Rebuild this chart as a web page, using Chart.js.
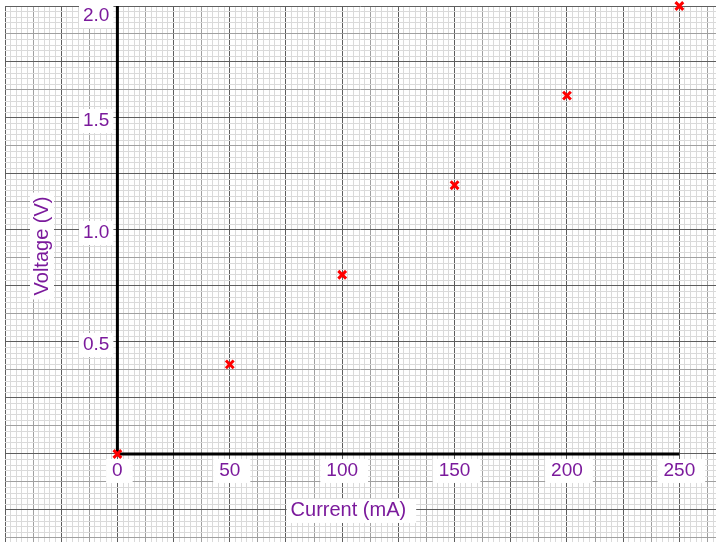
<!DOCTYPE html>
<html>
<head>
<meta charset="utf-8">
<script src="https://cdn.jsdelivr.net/npm/chart.js@4/dist/chart.umd.min.js"></script>
<style>
  html, body { margin: 0; padding: 0; background: #fff; }
  #wrap { width: 716px; height: 542px; }
</style>
</head>
<body>
<div id="wrap"><canvas id="graph"></canvas></div>
<script>
// readings off the graph paper
const currents = [0, 50, 100, 150, 200, 250];       // mA
const voltages = [0, 0.4, 0.8, 1.2, 1.6, 2.0];      // V
const xTickLabels = [0, 50, 100, 150, 200, 250];
const yTickLabels = [0.5, 1.0, 1.5, 2.0];
const xTitle = 'Current (mA)';
const yTitle = 'Voltage (V)';

const purple = '#7b1a9c';
const tickFont = '19px "Liberation Sans", Arial, sans-serif';
const titleFont = '20px "Liberation Sans", Arial, sans-serif';

// grid colour depends on whether the line is a major / half / minor division
function gridColour(value, major) {
  const n = Math.round(value / (major / 10));
  if (n % 10 === 0) return '#5e5e5e';
  if (n % 5 === 0) return '#a0a0a0';
  return '#dadada';
}

function boxedText(ctx, text, font, x, y, align, padL, padR) {
  ctx.font = font;
  const w = ctx.measureText(text).width;
  let left = align === 'right' ? x - w : (align === 'center' ? x - w / 2 : x);
  ctx.fillStyle = '#fff';
  ctx.fillRect(left - padL, y - 12, w + padL + padR, 24);
  ctx.fillStyle = purple;
  ctx.textAlign = 'left';
  ctx.textBaseline = 'middle';
  ctx.fillText(text, left, y);
}

const paper = {
  id: 'paper',
  beforeDraw(chart) {
    const ctx = chart.ctx;
    ctx.save();
    ctx.fillStyle = '#fff';
    ctx.fillRect(0, 0, chart.width, chart.height);
    ctx.restore();
  },
  beforeDatasetsDraw(chart) {
    const ctx = chart.ctx, xs = chart.scales.x, ys = chart.scales.y;
    const x0 = xs.getPixelForValue(0), y0 = ys.getPixelForValue(0);
    ctx.save();
    // labels on white patches
    xTickLabels.forEach(v => {
      boxedText(ctx, String(v), tickFont, xs.getPixelForValue(v), y0 + 17, 'center', 6, 10);
    });
    yTickLabels.forEach(v => {
      let py = ys.getPixelForValue(v) + 3;
      if (py < 16) py = 16;
      boxedText(ctx, v.toFixed(1), tickFont, x0 - 8, py, 'right', 4, 4);
    });
    boxedText(ctx, xTitle, titleFont, x0 + 231, y0 + 57, 'center', 4, 10);
    ctx.save();
    ctx.translate(42, 246);
    ctx.rotate(-Math.PI / 2);
    boxedText(ctx, yTitle, titleFont, 0, 0, 'center', 4, 4);
    ctx.restore();

    // the two heavy axes through the origin
    ctx.strokeStyle = '#000';
    ctx.lineWidth = 3;
    ctx.beginPath();
    ctx.moveTo(x0, ys.getPixelForValue(2.0));
    ctx.lineTo(x0, y0);
    ctx.lineTo(xs.getPixelForValue(250), y0);
    ctx.stroke();
    ctx.restore();
  }
};

new Chart(document.getElementById('graph'), {
  type: 'scatter',
  data: {
    datasets: [{
      data: currents.map((c, i) => ({ x: c, y: voltages[i] })),
      pointStyle: 'crossRot',
      pointRadius: 5.5,
      pointHoverRadius: 5.5,
      pointBorderWidth: 3,
      pointBorderColor: '#ff0000',
      pointBackgroundColor: '#ff0000',
      showLine: false,
      clip: false
    }]
  },
  options: {
    responsive: true,
    maintainAspectRatio: false,
    animation: false,
    events: [],
    layout: { autoPadding: false, padding: { left: 5, top: 6, right: 0, bottom: 0 } },
    plugins: { legend: { display: false }, tooltip: { enabled: false } },
    scales: {
      x: {
        type: 'linear',
        min: -50,
        max: 266.3,
        border: { display: false },
        afterFit: s => { s.height = 0; },
        ticks: { display: false, stepSize: 2.5, includeBounds: false },
        grid: {
          drawTicks: false,
          lineWidth: 1,
          color: c => gridColour(c.tick.value, 25)
        }
      },
      y: {
        type: 'linear',
        min: -0.393,
        max: 2.0,
        border: { display: false },
        afterFit: s => { s.width = 0; },
        ticks: { display: false, stepSize: 0.025, includeBounds: false },
        grid: {
          drawTicks: false,
          lineWidth: 1,
          color: c => gridColour(c.tick.value, 0.25)
        }
      }
    }
  },
  plugins: [paper]
});
</script>
</body>
</html>
